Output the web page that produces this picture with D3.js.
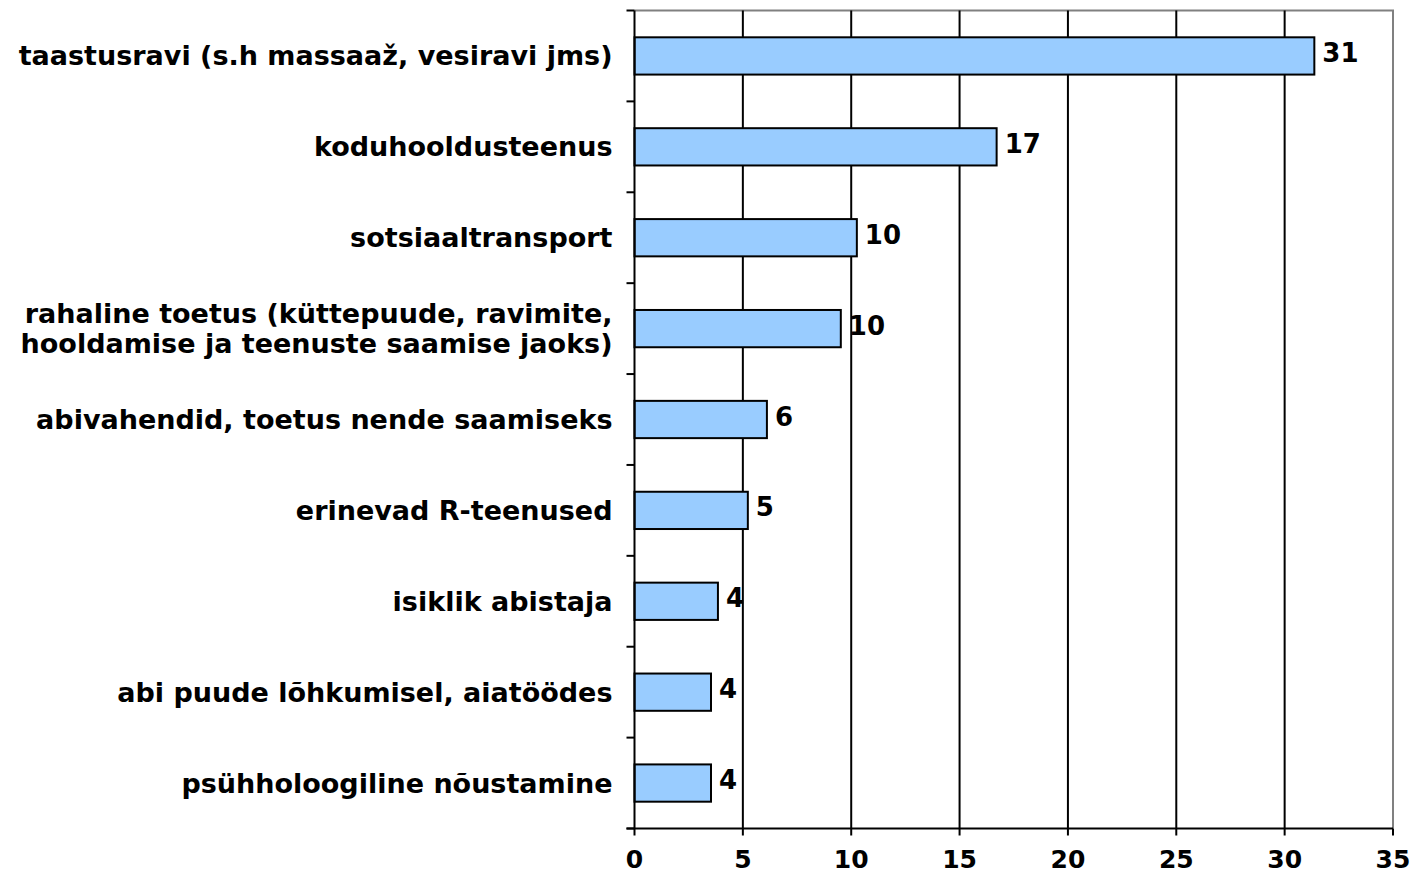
<!DOCTYPE html>
<html><head><meta charset="utf-8">
<script src="https://cdn.jsdelivr.net/npm/d3@7"></script>
<style>body{margin:0;background:#fff}svg{display:block}text{font-family:"DejaVu Sans",Verdana,sans-serif;font-weight:bold;fill:#000}</style>
</head><body><svg id="c" width="1414" height="875"></svg>
<script>
const categories = [
  "taastusravi (s.h massaaž, vesiravi jms)",
  "koduhooldusteenus",
  "sotsiaaltransport",
  "rahaline toetus (küttepuude, ravimite,\nhooldamise ja teenuste saamise jaoks)",
  "abivahendid, toetus nende saamiseks",
  "erinevad R-teenused",
  "isiklik abistaja",
  "abi puude lõhkumisel, aiatöödes",
  "psühholoogiline nõustamine"
];
const values = [31.37, 16.71, 10.26, 9.52, 6.11, 5.23, 3.85, 3.53, 3.53];
const valueLabels = ["31", "17", "10", "10", "6", "5", "4", "4", "4"];
const xTicks = [0, 5, 10, 15, 20, 25, 30, 35];

const svg = d3.select("#c");
const m = {l: 634.5, r: 1393, t: 10.5, b: 828.5};
const x = d3.scaleLinear().domain([0, 35]).range([m.l, m.r]);
const y = d3.scaleBand().domain(categories).range([m.t, m.b]).paddingInner(0.59).paddingOuter(0.295);
const band = d3.scaleBand().domain(categories).range([m.t, m.b]);

svg.append("path").attr("d", `M${m.l},${m.t}H${m.r}V${m.b}`).attr("fill","none").attr("stroke","#808080").attr("stroke-width",2);
svg.append("g").selectAll("line").data(xTicks.slice(1, -1)).join("line")
  .attr("x1", d => x(d)).attr("x2", d => x(d)).attr("y1", m.t).attr("y2", m.b)
  .attr("stroke", "#000").attr("stroke-width", 2);
svg.append("g").selectAll("rect").data(categories).join("rect")
  .attr("x", x(0)).attr("y", d => y(d)).attr("width", (d,i) => x(values[i]) - x(0)).attr("height", y.bandwidth())
  .attr("fill", "#99ccff").attr("stroke", "#000").attr("stroke-width", 2);
svg.append("g").selectAll("text").data(categories).join("text")
  .attr("x", (d,i) => x(values[i]) + 8).attr("y", d => y(d) + y.bandwidth()/2 - 3)
  .attr("dy", "0.35em").attr("font-size", 26).text((d,i) => valueLabels[i]);
svg.append("line").attr("x1", m.l).attr("x2", m.l).attr("y1", m.t).attr("y2", m.b).attr("stroke","#000").attr("stroke-width",2);
const bounds = categories.map(c => band(c)).concat([m.b]);
svg.append("g").selectAll("line").data(bounds).join("line")
  .attr("x1", m.l - 8).attr("x2", m.l).attr("y1", d => d).attr("y2", d => d).attr("stroke","#000").attr("stroke-width",2);
const lab = svg.append("g").selectAll("text").data(categories).join("text")
  .attr("text-anchor", "end").attr("font-size", 27)
  .attr("transform", d => `translate(${m.l - 22},${band(d) + band.bandwidth()/2})`);
lab.each(function(d) {
  const lines = d.split("\n");
  const t = d3.select(this);
  lines.forEach((ln, i) => {
    t.append("tspan").attr("x", 0).attr("y", (i - (lines.length - 1) / 2) * 30).attr("dy", "0.35em").text(ln);
  });
});
svg.append("line").attr("x1", m.l - 8).attr("x2", m.r).attr("y1", m.b).attr("y2", m.b).attr("stroke","#000").attr("stroke-width",2);
svg.append("g").selectAll("line").data(xTicks).join("line")
  .attr("x1", d => x(d)).attr("x2", d => x(d)).attr("y1", m.b).attr("y2", m.b + 7).attr("stroke","#000").attr("stroke-width",2);
svg.append("g").selectAll("text").data(xTicks).join("text")
  .attr("x", d => x(d)).attr("y", 868).attr("text-anchor", "middle").attr("font-size", 25).text(d => d);
</script></body></html>
